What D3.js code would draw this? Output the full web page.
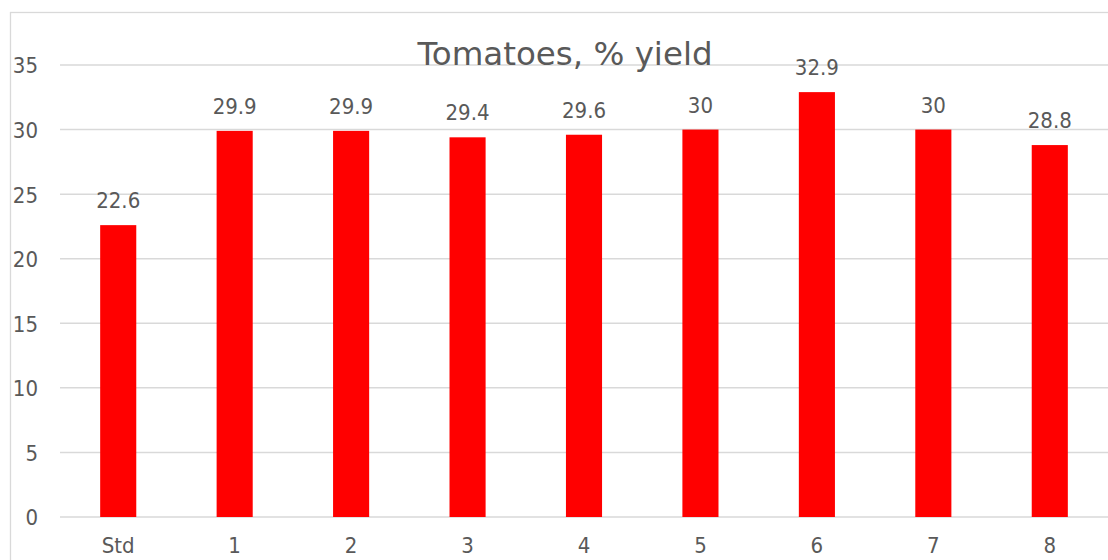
<!DOCTYPE html>
<html><head><meta charset="utf-8">
<script src="https://cdn.jsdelivr.net/npm/d3@7"></script>
<style>body{margin:0;background:#fff}svg{display:block}text{fill:#595959}
.sm{font-family:"DejaVu Sans Condensed","DejaVu Sans",sans-serif;font-stretch:condensed;font-size:22px}</style>
</head><body><svg id="c" width="1108" height="560"></svg>
<script>
const categories = ["Std","1","2","3","4","5","6","7","8"];
const values = [22.6,29.9,29.9,29.4,29.6,30,32.9,30,28.8];
const yTicks = [0,5,10,15,20,25,30,35];
const title = "Tomatoes, % yield";

const svg = d3.select("#c");
svg.append("rect").attr("x",10.5).attr("y",12.5).attr("width",1110).attr("height",600)
  .attr("fill","#fff").attr("stroke","#d9d9d9").attr("stroke-width",1.3);

const x = d3.scaleBand().domain(categories).range([60,1108]).paddingInner(0.69).paddingOuter(0.345);
const y = d3.scaleLinear().domain([0,35]).range([517,65]);

svg.append("g").selectAll("line.grid").data(yTicks).join("line").attr("class","grid")
  .attr("x1",60).attr("x2",1108).attr("y1",d=>y(d)).attr("y2",d=>y(d))
  .attr("stroke","#d9d9d9").attr("stroke-width",1.5);

const yAxis = d3.axisLeft(y).tickValues(yTicks).tickSize(0).tickPadding(0);
const ya = svg.append("g").attr("transform","translate(38,0)").call(yAxis);
ya.select(".domain").remove();
ya.attr("font-family",null).attr("font-size",null);
ya.selectAll("text").attr("class","sm").attr("fill","#595959").attr("dy","0.36em");

svg.append("g").selectAll("rect.bar").data(values).join("rect").attr("class","bar")
  .attr("x",(d,i)=>x(categories[i])).attr("width",x.bandwidth())
  .attr("y",d=>y(d)).attr("height",d=>y(0)-y(d)).attr("fill","#ff0000");

svg.append("g").selectAll("text.lbl").data(values).join("text").attr("class","sm")
  .attr("x",(d,i)=>x(categories[i])+x.bandwidth()/2).attr("y",d=>y(d)-17)
  .attr("text-anchor","middle").text(d=>d);

const xAxis = d3.axisBottom(x).tickSize(0).tickPadding(0);
const xa = svg.append("g").attr("transform","translate(0,553)").call(xAxis);
xa.select(".domain").remove();
xa.attr("font-family",null).attr("font-size",null);
xa.selectAll("text").attr("class","sm").attr("fill","#595959").attr("dy","0");

svg.append("text").attr("x",565).attr("y",65).attr("text-anchor","middle")
  .attr("font-family","DejaVu Sans").attr("font-size",32.5).text(title);
</script></body></html>
